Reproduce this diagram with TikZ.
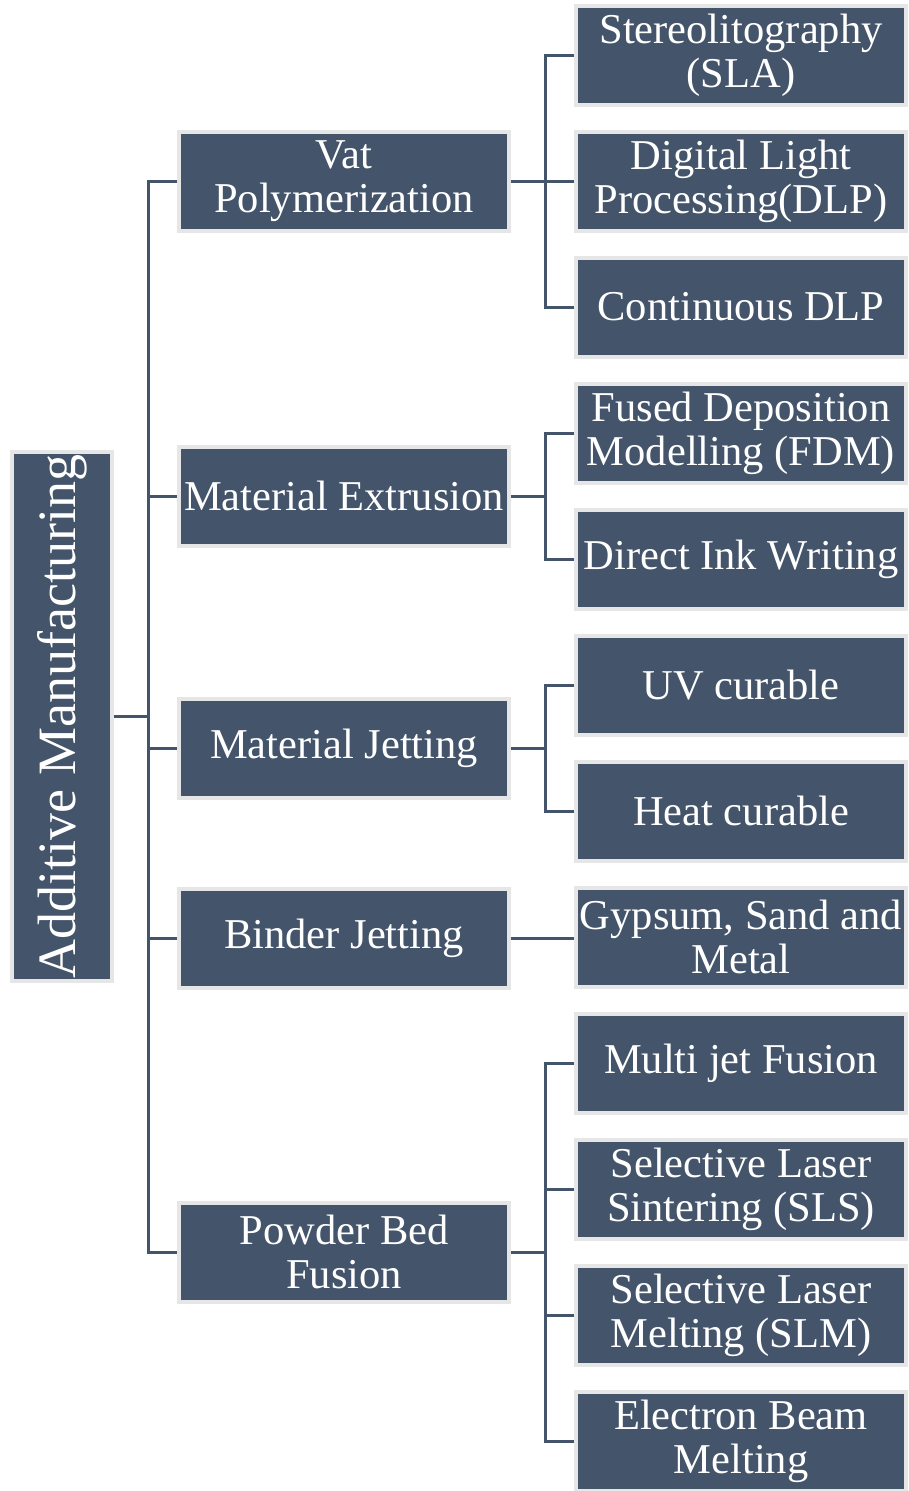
\documentclass[tikz,border=0pt]{standalone}
\usepackage{fontspec}
\setmainfont{Liberation Serif}
\usetikzlibrary{positioning}
\definecolor{slate}{HTML}{44546A}
\definecolor{rim}{HTML}{E7E6E6}
\begin{document}
\begin{tikzpicture}[x=1pt, y=-1pt,
    box/.style={rectangle, draw=rim, line width=4pt, fill=slate, text=white, align=center,
        inner sep=0pt, minimum width=330pt, minimum height=99pt, font=\fontsize{42.5}{44}\selectfont},
    link/.style={draw=slate, line width=3pt}
]
\useasboundingbox (0,0) rectangle (908,1491);

% root
\node[box, minimum width=100pt, minimum height=529pt, font=\fontsize{54}{60}\selectfont]
    (am) at (62,716.5) {\rotatebox{90}{Additive Manufacturing}};

% process categories
\node[box] (vat)  at (344,181)  {Vat\\Polymerization};
\node[box] (mex)  at (344,496)  {Material Extrusion};
\node[box] (mjet) at (344,748)  {Material Jetting};
\node[box] (bjet) at (344,938)  {Binder Jetting};
\node[box] (pbf)  at (344,1252) {Powder Bed\\Fusion};

% technologies
\foreach \n/\t [count=\i from 0] in {
    sla/{Stereolitography\\(SLA)},
    dlp/{Digital Light\\Processing(DLP)},
    cdlp/{Continuous DLP},
    fdm/{Fused Deposition\\Modelling (FDM)},
    diw/{Direct Ink Writing},
    uv/{UV curable},
    heat/{Heat curable},
    gsm/{Gypsum, Sand and\\Metal},
    mjf/{Multi jet Fusion},
    sls/{Selective Laser\\Sintering (SLS)},
    slm/{Selective Laser\\Melting (SLM)},
    ebm/{Electron Beam\\Melting}} {
    \node[box] (\n) at (741,{55+\i*126}) {\t};
}

% root to categories
\draw[link] (am.east) -- ++(34,0) coordinate (amj);
\foreach \c in {vat,mex,mjet,bjet,pbf}
    \draw[link] (amj) |- (\c.west);

% categories to technologies
\draw[link] (vat.east) -- ++(34,0) coordinate (vatj);
\foreach \c in {sla,dlp,cdlp}
    \draw[link] (vatj) |- (\c.west);
\draw[link] (mex.east) -- ++(34,0) coordinate (mexj);
\foreach \c in {fdm,diw}
    \draw[link] (mexj) |- (\c.west);
\draw[link] (mjet.east) -- ++(34,0) coordinate (mjetj);
\foreach \c in {uv,heat}
    \draw[link] (mjetj) |- (\c.west);
\draw[link] (bjet.east) -- (bjet.east -| gsm.west);
\draw[link] (pbf.east) -- ++(34,0) coordinate (pbfj);
\foreach \c in {mjf,sls,slm,ebm}
    \draw[link] (pbfj) |- (\c.west);
\end{tikzpicture}
\end{document}
